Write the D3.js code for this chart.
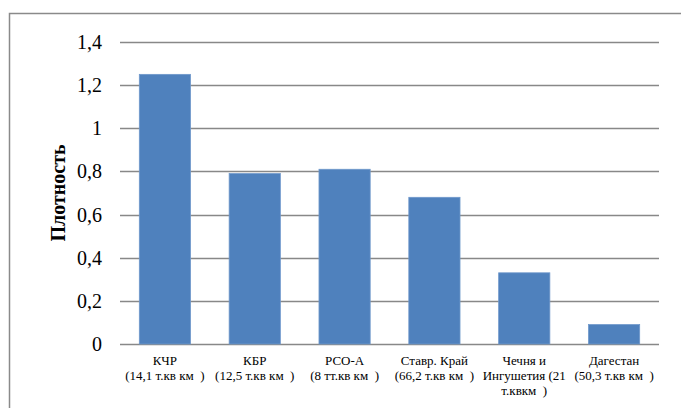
<!DOCTYPE html>
<html>
<head>
<meta charset="utf-8">
<script src="https://cdn.jsdelivr.net/npm/d3@7"></script>
<style>
  html, body { margin: 0; padding: 0; background: #fff; }
  svg { display: block; }
</style>
</head>
<body>
<svg id="chart" width="681" height="408" font-family="'Liberation Serif', 'Times New Roman', 'DejaVu Serif', serif"></svg>
<script>
// Population density by region
const regions = ["КЧР", "КБР", "РСО-А", "Ставр. Край", "Чечня и Ингушетия", "Дагестан"];
const density = [1.25, 0.79, 0.81, 0.68, 0.33, 0.09];
// Wrapped axis label lines for each region
const regionLabels = [
  ["КЧР", "(14,1 т.кв км  )"],
  ["КБР", "(12,5 т.кв км  )"],
  ["РСО-А", "(8 тт.кв км  )"],
  ["Ставр. Край", "(66,2 т.кв км  )"],
  ["Чечня и", "Ингушетия (21", "т.квкм  )"],
  ["Дагестан", "(50,3 т.кв км  )"]
];
const yTicks = [0, 0.2, 0.4, 0.6, 0.8, 1, 1.2, 1.4];
const yTitle = "Плотность";

const svg = d3.select("#chart");

// Outer chart frame
svg.append("rect")
  .attr("x", 9.5).attr("y", 13.5)
  .attr("width", 720).attr("height", 420)
  .attr("fill", "none")
  .attr("stroke", "#8a8a8a")
  .attr("stroke-width", 1.5);

const plot = { left: 120, right: 659, top: 42, bottom: 344 };

const x = d3.scaleBand()
  .domain(regions)
  .range([plot.left, plot.right])
  .paddingInner(0.43)
  .paddingOuter(0.215);

const y = d3.scaleLinear()
  .domain([0, 1.4])
  .range([plot.bottom, plot.top]);

const fmt = v => d3.format("~g")(v).replace(".", ",");

// Horizontal gridlines
svg.append("g")
  .selectAll("line")
  .data(yTicks)
  .join("line")
  .attr("x1", plot.left).attr("x2", plot.right)
  .attr("y1", d => Math.round(y(d)) + 0.5)
  .attr("y2", d => Math.round(y(d)) + 0.5)
  .attr("stroke", "#888888")
  .attr("stroke-width", 1.6);

// Y tick labels
svg.append("g")
  .selectAll("text")
  .data(yTicks)
  .join("text")
  .attr("x", 102)
  .attr("y", d => y(d))
  .attr("dy", "0.35em")
  .attr("text-anchor", "end")
  .attr("font-size", 20)
  .attr("fill", "#000")
  .text(fmt);

// Bars
svg.append("g")
  .selectAll("rect")
  .data(regions)
  .join("rect")
  .attr("x", d => x(d))
  .attr("width", x.bandwidth())
  .attr("y", (d, i) => y(density[i]))
  .attr("height", (d, i) => y(0) - y(density[i]))
  .attr("fill", "#4f81bd")
  .attr("stroke", "#6f98cb")
  .attr("stroke-width", 0.8);

// Category labels under the axis
const lab = svg.append("g")
  .selectAll("text")
  .data(regions)
  .join("text")
  .attr("text-anchor", "middle")
  .attr("font-size", 13)
  .attr("fill", "#000")
  .style("white-space", "pre")
  .attr("transform", d => `translate(${x(d) + x.bandwidth() / 2},365)`);

lab.selectAll("tspan")
  .data((d, i) => regionLabels[i])
  .join("tspan")
  .attr("x", 0)
  .attr("y", (d, i) => i * 15)
  .text(d => d);

// Y axis title
svg.append("text")
  .attr("transform", `translate(65,${(plot.top + plot.bottom) / 2}) rotate(-90)`)
  .attr("text-anchor", "middle")
  .attr("font-size", 20)
  .attr("font-weight", "bold")
  .attr("fill", "#000")
  .text(yTitle);
</script>
</body>
</html>
